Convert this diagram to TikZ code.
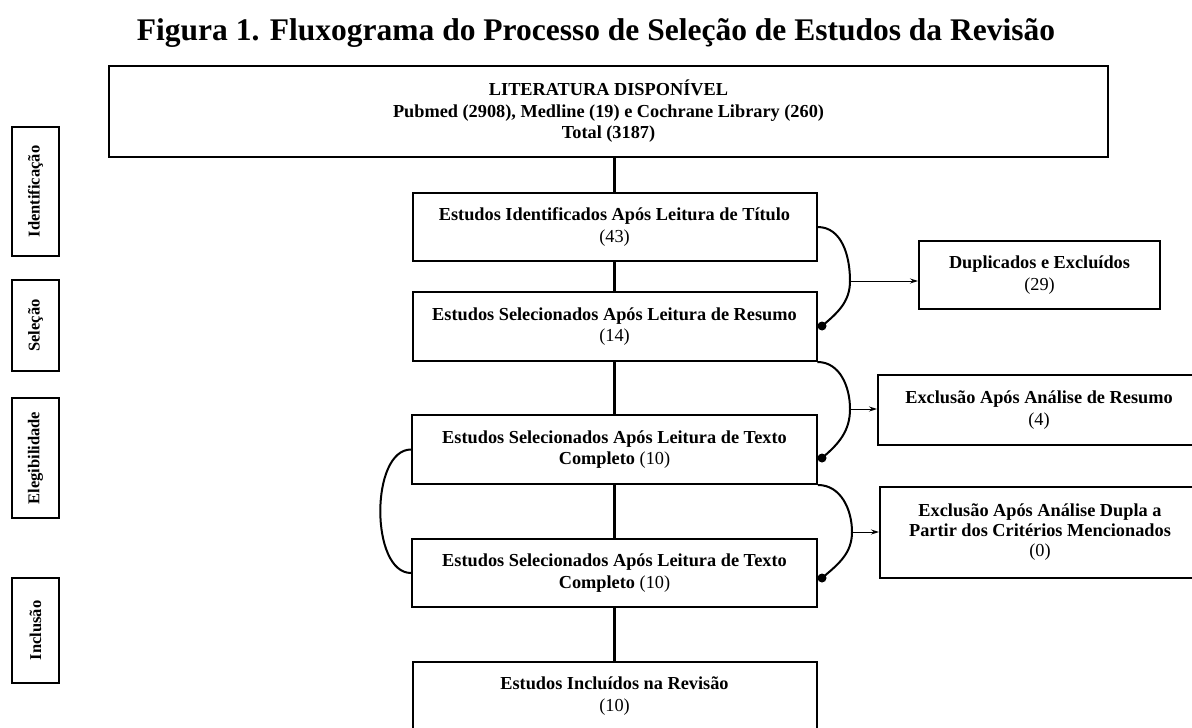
\documentclass[tikz,border=0pt]{standalone}
\usepackage{fontspec}
\setmainfont{Liberation Serif}
\usetikzlibrary{calc,arrows.meta}
\tikzset{>={Stealth[length=8pt,width=5pt]},
  etapa/.style={draw,line width=2pt,align=center,inner sep=2pt,
    font=\fontsize{18.3}{21.5}\selectfont},
  fase/.style={draw,line width=1.2pt,rotate=90,minimum height=47pt,inner sep=1pt,
    font=\fontsize{16.5}{19}\selectfont\bfseries},
  tronco/.style={line width=3.5pt},
  desvio/.style={line width=2pt},
  seta/.style={->,line width=0.9pt}}

\begin{document}
\begin{tikzpicture}[x=1pt,y=-1pt]
    \path[use as bounding box,clip] (0,0) rectangle (1192,728);
    \node (titulo) at (596,33) {\fontsize{31.5}{36}\selectfont\bfseries Figura 1. Fluxograma do Processo de Seleção de Estudos da Revisão};
    % fases
    \node[fase,minimum width=129pt] (fident) at (35.5,191.5) {Identificação};
    \node[fase,minimum width=91pt] (fsel) at (35.5,325.5) {Seleção};
    \node[fase,minimum width=120pt] (feleg) at (35.5,458) {Elegibilidade};
    \node[fase,minimum width=105pt] (fincl) at (35.5,630.5) {Inclusão};
    % caixas centrais
    \node[etapa,line width=2.3pt,minimum width=999pt,minimum height=91pt] (lit) at (608.5,111.5)
      {\textbf{LITERATURA DISPONÍVEL}\\\textbf{Pubmed (2908), Medline (19) e Cochrane Library (260)}\\\textbf{Total (3187)}};
    \node[etapa,minimum width=404pt,minimum height=68pt] (ident) at (614.5,227)
      {\textbf{Estudos Identificados Após Leitura de Título}\\(43)};
    \node[etapa,minimum width=404pt,minimum height=69pt] (resumo) at (614.5,326.5)
      {\textbf{Estudos Selecionados Após Leitura de Resumo}\\(14)};
    \node[etapa,minimum width=405pt,minimum height=69pt] (texto1) at (614.5,449.5)
      {\textbf{Estudos Selecionados Após Leitura de Texto}\\\textbf{Completo} (10)};
    \node[etapa,minimum width=405pt,minimum height=68pt] (texto2) at (614.5,573)
      {\textbf{Estudos Selecionados Após Leitura de Texto}\\\textbf{Completo} (10)};
    \node[etapa,minimum width=404pt,minimum height=68pt] (incl) at (614.5,696)
      {\textbf{Estudos Incluídos na Revisão}\\(10)};
    % caixas de exclusao
    \node[etapa,minimum width=241pt,minimum height=68pt] (dup) at (1039.5,275)
      {\textbf{Duplicados e Excluídos}\\(29)};
    \node[etapa,minimum width=322pt,minimum height=70pt] (excres) at (1039,410)
      {\textbf{Exclusão Após Análise de Resumo}\\(4)};
    \node[etapa,minimum width=320pt,minimum height=91pt,font=\fontsize{18.3}{20}\selectfont] (excdupla) at (1040,532.5)
      {\textbf{Exclusão Após Análise Dupla a}\\\textbf{Partir dos Critérios Mencionados}\\(0)};
    % tronco
    \draw[tronco] (lit.south -| ident.north) -- (ident.north);
    \draw[tronco] (ident) -- (resumo);
    \draw[tronco] (resumo) -- (texto1);
    \draw[tronco] (texto1) -- (texto2);
    \draw[tronco] (texto2) -- (incl);
    % desvios
    \coordinate (v1) at (850,281);
    \coordinate (p1) at (822,326);
    \draw[desvio] (ident.east) to[out=0,in=90] (v1) to[out=-90,in=40] (p1);
    \fill (p1) circle (4.5pt);
    \draw[seta] (v1) -- (v1 -| dup.west);
    \coordinate (v2) at (850,409);
    \coordinate (p2) at (822,458);
    \draw[desvio] (resumo.south east) to[out=0,in=90] (v2) to[out=-90,in=40] (p2);
    \fill (p2) circle (4.5pt);
    \draw[seta] (v2) -- (v2 -| excres.west);
    \coordinate (v3) at (852,532);
    \coordinate (p3) at (822,578);
    \draw[desvio] (texto1.south east) to[out=0,in=90] (v3) to[out=-90,in=40] (p3);
    \fill (p3) circle (4.5pt);
    \draw[seta] (v3) -- (v3 -| excdupla.west);
    \draw[desvio] (texto1.west) to[out=180,in=180,looseness=0.85] (texto2.west);
\end{tikzpicture}
\end{document}
